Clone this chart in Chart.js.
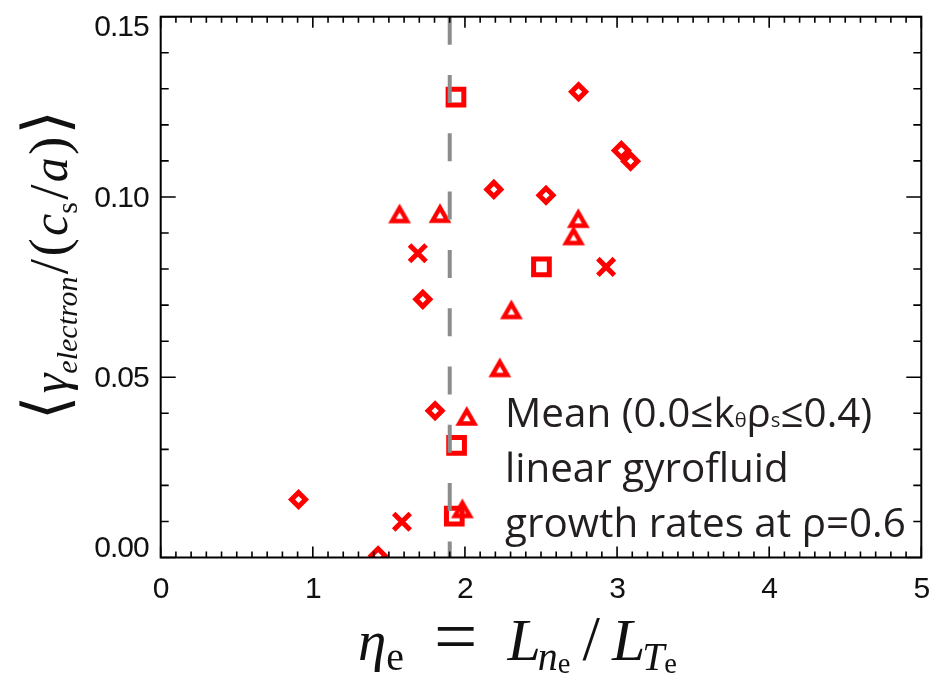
<!DOCTYPE html>
<html><head><meta charset="utf-8">
<script src="https://cdn.jsdelivr.net/npm/chart.js@4/dist/chart.umd.min.js"></script>
<style>html,body{margin:0;padding:0;background:#fff;}canvas{display:block}</style>
</head><body>
<canvas id="c" width="938" height="677"></canvas>
<script>
// ---- data ----
const xTickValues = [0, 1, 2, 3, 4, 5];
const xTickLabels = ['0', '1', '2', '3', '4', '5'];
const yTickValues = [0, 0.05, 0.10, 0.15];
const yTickLabels = ['0.00', '0.05', '0.10', '0.15'];
const diamondX = [0.906, 1.429, 1.723, 1.804, 2.190, 2.533, 2.747, 3.028, 3.089];
const diamondY = [0.0161, 0.0005, 0.0716, 0.0407, 0.1021, 0.1005, 0.1292, 0.1129, 0.1099];
const triangleX = [1.570, 1.836, 2.745, 2.714, 2.305, 2.229, 1.983];
const triangleY = [0.0954, 0.0955, 0.0941, 0.0893, 0.0688, 0.0527, 0.0136];
const squareX = [1.941, 2.503, 1.945, 1.930];
const squareY = [0.1277, 0.0806, 0.0311, 0.0115];
const crossX = [1.690, 2.928, 1.586];
const crossY = [0.0844, 0.0806, 0.0099];
const thresholdX = [1.90, 1.90];
const thresholdY = [0.15, 0.0];
const legendLine1 = [{t:'Mean (0.0≤k'},{t:'θ',k:0.5},{t:'ρ'},{t:'s',k:0.5},{t:'≤0.4)'}];
const legendLine2 = 'linear gyrofluid';
const legendLine3 = 'growth rates at ρ=0.6';

const RED = '#ff0000';
const pts = (xs, ys) => xs.map((x, i) => ({x: x, y: ys[i]}));

// triangle marker image (bbox centred)
const triImg = document.createElement('canvas');
triImg.width = 32; triImg.height = 32;
(function(){
  const c = triImg.getContext('2d');
  c.strokeStyle = RED; c.lineWidth = 4.5; c.lineJoin = 'miter';
  c.beginPath(); c.moveTo(16-7.5, 16+7.5); c.lineTo(16, 16-5.5); c.lineTo(16+7.5, 16+7.5); c.closePath(); c.stroke();
})();

const MATH = '"Liberation Serif", "DejaVu Serif", serif';
function segFont(s, base, fam){ return (s.it?'italic ':'') + (base*(s.k||1)) + 'px ' + fam; }
// flow layout: extra space (weights w) distributed to reach target width
function drawFlow(ctx, segs, x, y, base, fam, target){
  let natural = 0, wsum = 0;
  const widths = segs.map(s => { ctx.font = segFont(s, base, fam); const w = ctx.measureText(s.t).width; natural += w + (s.sp||0); return w; });
  segs.forEach(s => wsum += (s.w||0));
  const extra = target ? (target - natural) : 0;
  let cx = x;
  segs.forEach((s, i) => {
    ctx.font = segFont(s, base, fam);
    ctx.fillText(s.t, cx, y + (s.dy||0));
    cx += widths[i] + (s.sp||0) + (wsum ? extra * (s.w||0) / wsum : 0);
  });
  return cx - x;
}
const xTitle = [
  {t:'η', it:1}, {t:'e', k:0.7, dy:10, w:1}, {t:'=', k:1.35, dy:2, w:1}, {t:'L', it:1, k:1.05, sp:-3},
  {t:'n', it:1, k:0.7, dy:10}, {t:'e', k:0.5, dy:13, w:0.4}, {t:'/', k:1.1, w:0.4}, {t:'L', it:1, k:1.05, sp:-3},
  {t:'T', it:1, k:0.7, dy:10}, {t:'e', k:0.5, dy:13}
];
const yTitle = [
  {t:'⟨', k:1.25, w:1}, {t:'γ', it:1}, {t:'electron', it:1, k:0.6, dy:10, w:1}, {t:'/', k:1.1, w:1}, {t:'(', k:1.1, w:1},
  {t:'c', it:1}, {t:'s', k:0.6, dy:10, w:1}, {t:'/', k:1.1, w:1}, {t:'a', it:1, w:1}, {t:')', k:1.1, w:1}, {t:'⟩', k:1.25}
];

const decor = {
  id: 'decor',
  afterDatasetsDraw(chart){
    const ctx = chart.ctx, a = chart.chartArea;
    const xs = chart.scales.x, ys = chart.scales.y;
    ctx.save();
    ctx.strokeStyle = '#000';
    // ticks
    ctx.lineWidth = 1.6;
    ctx.beginPath();
    for (let i = 0; i <= 50; i++){
      const v = i / 10, px = xs.getPixelForValue(v);
      const L = (i % 10 === 0) ? 11 : 6;
      ctx.moveTo(px, a.bottom); ctx.lineTo(px, a.bottom - L);
      ctx.moveTo(px, a.top); ctx.lineTo(px, a.top + L);
    }
    for (let i = 0; i <= 15; i++){
      const v = i / 100, py = ys.getPixelForValue(v);
      const L = (i % 5 === 0) ? 15 : 8;
      ctx.moveTo(a.left, py); ctx.lineTo(a.left + L, py);
      ctx.moveTo(a.right, py); ctx.lineTo(a.right - L, py);
    }
    ctx.stroke();
    // frame
    ctx.lineWidth = 2;
    ctx.strokeRect(a.left, a.top, a.right - a.left, a.bottom - a.top);
    // tick labels
    ctx.fillStyle = '#111';
    ctx.font = '30px "Liberation Sans", Arial, sans-serif';
    try { ctx.letterSpacing = '-1px'; } catch(e) {}
    ctx.textAlign = 'center'; ctx.textBaseline = 'middle';
    xTickValues.forEach((v, i) => ctx.fillText(xTickLabels[i], xs.getPixelForValue(v), 590));
    ctx.textAlign = 'right';
    yTickValues.forEach((v, i) => {
      let py = ys.getPixelForValue(v) + 2;
      py = Math.min(Math.max(py, a.top + 11), a.bottom - 9);
      ctx.fillText(yTickLabels[i], a.left - 12, py);
    });
    try { ctx.letterSpacing = '0px'; } catch(e) {}
    // legend
    ctx.textAlign = 'left'; ctx.textBaseline = 'alphabetic';
    ctx.fillStyle = '#231f20';
    const LF = '"Open Sans", "DejaVu Sans", sans-serif';
    ctx.font = '100px ' + LF;
    const lsize = 100 * 401 / ctx.measureText(legendLine3).width;
    const lx = 505;
    drawFlow(ctx, legendLine1, lx, 427, lsize, LF);
    ctx.font = lsize + 'px ' + LF;
    ctx.fillText(legendLine2, lx, 482);
    ctx.fillText(legendLine3, lx, 537);
    ctx.drawImage(triImg, 466.7 - 16, 416 - 16);
    // x title
    ctx.fillStyle = '#111';
    drawFlow(ctx, xTitle, 358, 660, 57, MATH, 319);
    // y title
    ctx.translate(67, 420); ctx.rotate(-Math.PI/2);
    drawFlow(ctx, yTitle, 0, 0, 50, MATH, 310);
    ctx.restore();
  }
};

new Chart(document.getElementById('c'), {
  type: 'scatter',
  data: {
    datasets: [
      {label:'threshold', type:'line', data: pts(thresholdX, thresholdY), borderColor:'rgb(140,140,140)', borderWidth:4,
       borderDash:[28,30.3], borderCapStyle:'butt', pointRadius:0, showLine:true, fill:false, order:0, clip:0},
      {label:'diamond', data: pts(diamondX, diamondY), pointStyle:'rectRot', radius:7, borderWidth:5,
       borderColor:RED, backgroundColor:'rgba(0,0,0,0)', order:1, clip:0},
      {label:'triangle', data: pts(triangleX, triangleY), pointStyle:triImg, radius:10,
       borderColor:RED, backgroundColor:'rgba(0,0,0,0)', order:1, clip:0},
      {label:'square', data: pts(squareX, squareY), pointStyle:'rect', radius:11.1, borderWidth:5,
       borderColor:RED, backgroundColor:'rgba(0,0,0,0)', order:1, clip:0},
      {label:'cross', data: pts(crossX, crossY), pointStyle:'crossRot', radius:11.7, borderWidth:5,
       borderColor:RED, backgroundColor:'rgba(0,0,0,0)', order:1, clip:0}
    ]
  },
  options: {
    responsive:false, animation:false, devicePixelRatio:1,
    layout:{padding:{left:160.7, right:11.5, top:14, bottom:119.5}},
    plugins:{legend:{display:false}, tooltip:{enabled:false}},
    scales:{
      x:{type:'linear', min:0, max:5, display:true,
         ticks:{display:false, stepSize:1}, grid:{display:false, drawTicks:false}, border:{display:false}},
      y:{type:'linear', min:0, max:0.15, display:true,
         ticks:{display:false, stepSize:0.05}, grid:{display:false, drawTicks:false}, border:{display:false}}
    }
  },
  plugins:[decor]
});
</script>
</body></html>
